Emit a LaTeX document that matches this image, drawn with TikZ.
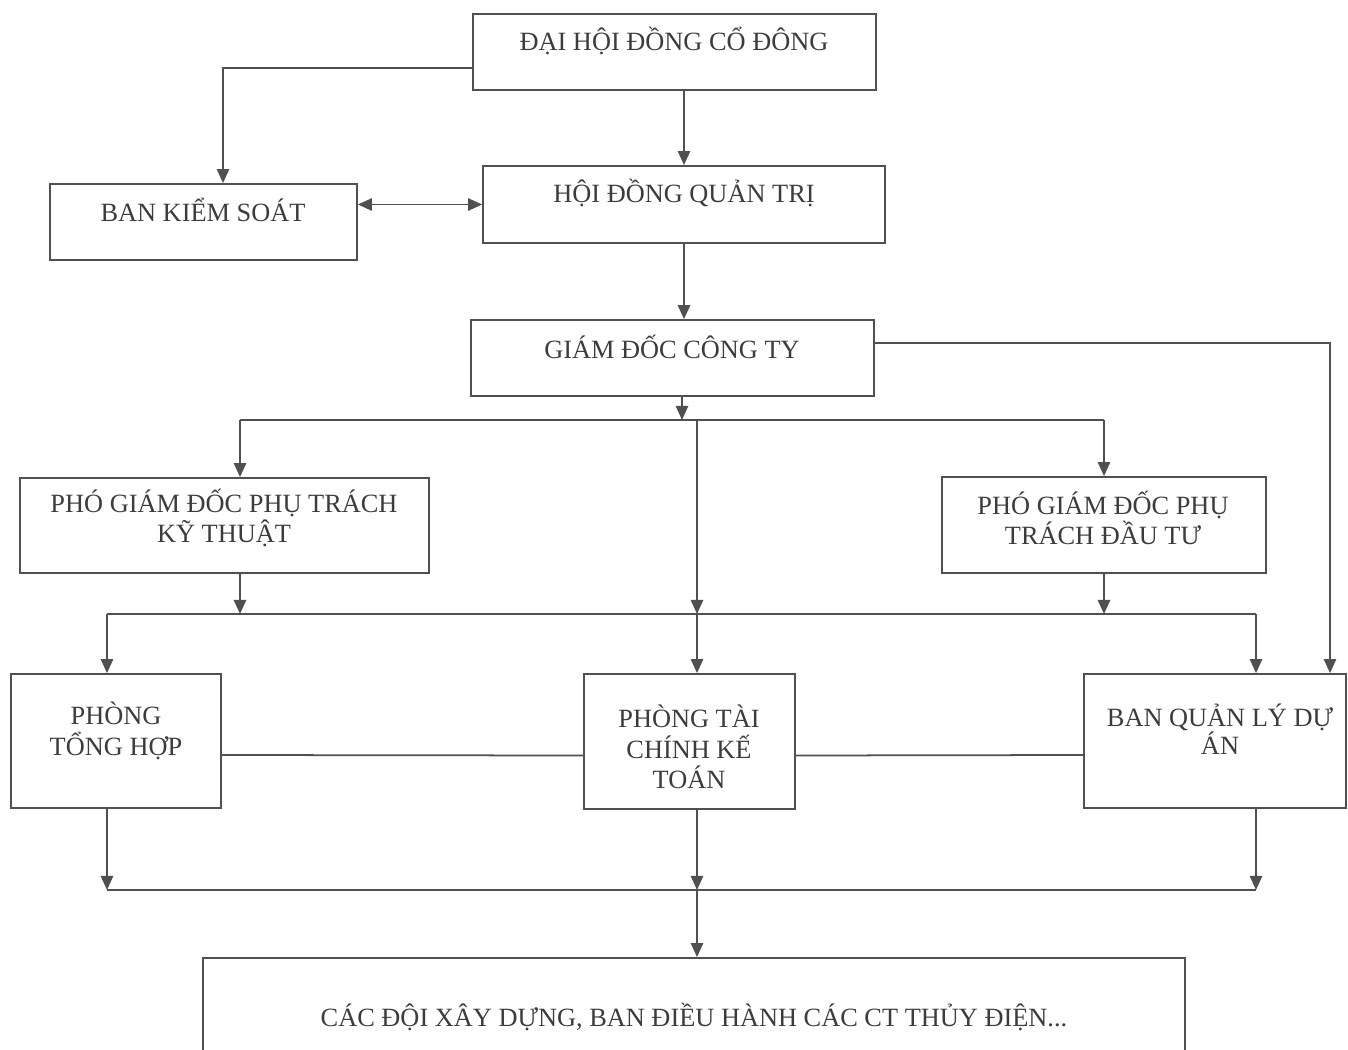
\documentclass[tikz,border=0pt]{standalone}
\usepackage{fontspec}
\setmainfont{Liberation Serif}
\usetikzlibrary{arrows.meta}
\definecolor{linegray}{HTML}{505050}
\definecolor{txtgray}{HTML}{3C3C3C}
\begin{document}
\begin{tikzpicture}[x=0.02cm, y=0.02cm]
    \tikzset{box/.style={draw=linegray, line width=1pt, rectangle, inner sep=0pt},
             lbl/.style={inner sep=0pt, align=center, text=txtgray, font=\fontsize{15}{17.5}\selectfont},
             arr/.style={draw=linegray, line width=1pt, -{Triangle[length=8pt,width=7pt]}},
             line/.style={draw=linegray, line width=1pt}}
    \useasboundingbox (0,0) rectangle (1348,-1050);
    % boxes
    \node [box, minimum width=8.06cm, minimum height=1.52cm] (dhcd) at (674.5,-52) {};
    \node [lbl] (dhcdt) at (674,-41) {ĐẠI HỘI ĐỒNG CỔ ĐÔNG};
    \node [box, minimum width=8.04cm, minimum height=1.54cm] (hdqt) at (684,-204.5) {};
    \node [lbl] (hdqtt) at (684,-193) {HỘI ĐỒNG QUẢN TRỊ};
    \node [box, minimum width=6.14cm, minimum height=1.52cm] (bks) at (203.5,-222) {};
    \node [lbl] (bkst) at (203,-210) {BAN KIỂM SOÁT};
    \node [box, minimum width=8.06cm, minimum height=1.52cm] (gdct) at (672.5,-358) {};
    \node [lbl] (gdctt) at (672,-347) {GIÁM ĐỐC CÔNG TY};
    \node [box, minimum width=8.18cm, minimum height=1.9cm] (pgdkt) at (224.5,-525.5) {};
    \node [lbl] (pgdktt) at (224,-518) {PHÓ GIÁM ĐỐC PHỤ TRÁCH\\KỸ THUẬT};
    \node [box, minimum width=6.48cm, minimum height=1.92cm] (pgddt) at (1104,-525) {};
    \node [lbl] (pgddtt) at (1103,-518) {PHÓ GIÁM ĐỐC PHỤ\\TRÁCH ĐẦU TƯ};
    \node [box, minimum width=4.2cm, minimum height=2.68cm] (pth) at (116,-741) {};
    \node [lbl] (ptht) at (116,-731) {PHÒNG\\TỔNG HỢP};
    \node [box, minimum width=4.22cm, minimum height=2.7cm] (ptckt) at (689.5,-741.5) {};
    \node [lbl] (ptcktt) at (689,-747) {PHÒNG TÀI\\CHÍNH KẾ\\TOÁN};
    \node [box, minimum width=5.24cm, minimum height=2.68cm] (bql) at (1215,-741) {};
    \node [lbl, font=\fontsize{15}{16}\selectfont] (bqlt) at (1220,-729) {BAN QUẢN LÝ DỰ\\ÁN};
    \node [box, minimum width=19.64cm, minimum height=2.08cm] (cac) at (694,-1010) {};
    \node [lbl] (cact) at (694,-1017) {CÁC ĐỘI XÂY DỰNG, BAN ĐIỀU HÀNH CÁC CT THỦY ĐIỆN...};
    % bus points
    \coordinate (k) at (223,-68);
    \coordinate (g) at (1330,-343);
    \coordinate (c1) at (682,-420);
    \coordinate (l1) at (240,-420);
    \coordinate (m1) at (697,-420);
    \coordinate (r1) at (1104,-420);
    \coordinate (l2) at (107,-614);
    \coordinate (m2) at (697,-614);
    \coordinate (r2) at (1256,-614);
    \coordinate (l3) at (107,-890);
    \coordinate (r3) at (1256,-890);
    % top part
    \draw [arr] (dhcd.west |- k) -- (k) -- (k |- bks.north);
    \draw [arr] (hdqt.north |- dhcd.south) -- (hdqt.north);
    \draw [arr, {Triangle[length=8pt,width=7pt]}-{Triangle[length=8pt,width=7pt]}] (bks.east |- hdqt.west) -- (hdqt.west);
    \draw [arr] (hdqt.south) -- (hdqt.south |- gdct.north);
    \draw [arr] (gdct.east |- g) -- (g) -- (g |- bql.north);
    % directors
    \draw [arr] (gdct.south -| c1) -- (c1);
    \draw [line] (l1) -- (r1);
    \draw [arr] (l1) -- (l1 |- pgdkt.north);
    \draw [arr] (r1) -- (r1 |- pgddt.north);
    \draw [arr] (m1) -- (m2);
    % departments
    \draw [arr] (l1 |- pgdkt.south) -- (l1 |- l2);
    \draw [arr] (r1 |- pgddt.south) -- (r1 |- r2);
    \draw [line] (l2) -- (r2);
    \draw [arr] (l2) -- (l2 |- pth.north);
    \draw [arr] (m2) -- (m2 |- ptckt.north);
    \draw [arr] (r2) -- (r2 |- bql.north);
    \draw [line] ([yshift=-0.28cm]pth.east) -- ([yshift=-0.28cm]ptckt.west);
    \draw [line] ([yshift=-0.28cm]ptckt.east) -- ([yshift=-0.28cm]bql.west);
    % bottom
    \draw [arr] (l2 |- pth.south) -- (l3);
    \draw [arr] (m2 |- ptckt.south) -- (m2 |- l3);
    \draw [arr] (r2 |- bql.south) -- (r3);
    \draw [line] (l3) -- (r3);
    \draw [arr] (m2 |- l3) -- (m2 |- cac.north);
\end{tikzpicture}
\end{document}
